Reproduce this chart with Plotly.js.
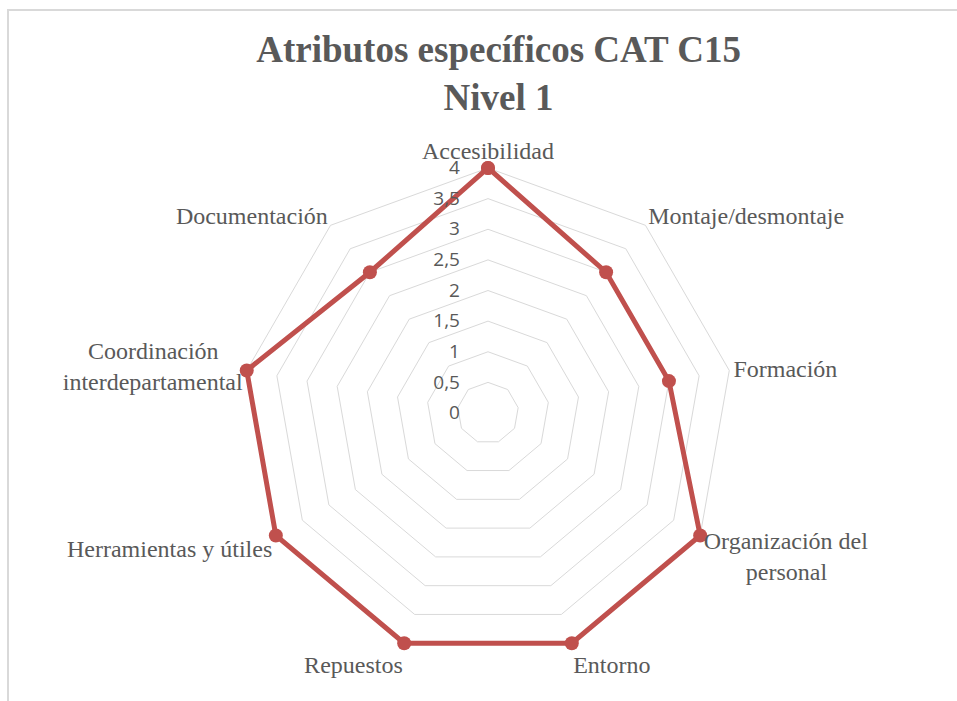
<!DOCTYPE html>
<html>
<head>
<meta charset="utf-8">
<script src="https://cdn.plot.ly/plotly-3.0.1.min.js"></script>
<style>
  html, body { margin: 0; padding: 0; background: #fff; }
  #frame { position: absolute; left: 7px; top: 9px; width: 960px; height: 700px;
           border-left: 2px solid #d9d9d9; border-top: 2px solid #d9d9d9; }
  #chart { position: absolute; left: 0; top: 0; width: 957px; height: 701px; }
</style>
</head>
<body>
<div id="frame"></div>
<div id="chart"></div>
<script>
// categorias y valores del grafico de radar
var atributos = ['Accesibilidad', 'Montaje/desmontaje', 'Formación',
                 'Organización del<br>\u00a0\u00a0\u00a0\u00a0\u00a0\u00a0\u00a0personal',
                 'Entorno', 'Repuestos', 'Herramientas y útiles',
                 'Coordinación\u00a0\u00a0\u00a0\u00a0<br>interdepartamental',
                 'Documentación'];
var nivel1 = [4, 3, 3, 4, 4, 4, 4, 4, 3];

// cerrar el poligono
var theta = atributos.concat([atributos[0]]);
var r = nivel1.concat([nivel1[0]]);

var gris = '#595959';
var rmax = 4.06;   // un poco de holgura para que la linea exterior no se recorte

var data = [{
  type: 'scatterpolar',
  r: r,
  theta: theta,
  mode: 'lines+markers',
  cliponaxis: false,
  line: { color: '#C0504D', width: 5 },
  marker: { color: '#C0504D', size: 14 },
  hoverinfo: 'theta+r'
}];

var rad = 245 * rmax / 4;
var layout = {
  width: 957,
  height: 701,
  paper_bgcolor: 'rgba(0,0,0,0)',
  plot_bgcolor: 'rgba(0,0,0,0)',
  separators: ',.',
  showlegend: false,
  margin: { l: 0, r: 0, t: 0, b: 0 },
  title: {
    text: '<b>Atributos específicos CAT C15<br>Nivel 1</b>',
    font: { family: 'Liberation Serif, Times New Roman, serif', size: 37, color: gris },
    x: 0.521, xanchor: 'center',
    y: 0.911, yanchor: 'top'
  },
  polar: {
    domain: { x: [(488 - rad) / 957, (488 + rad) / 957],
              y: [(701 - 413 - rad) / 701, (701 - 413 + rad) / 701] },
    bgcolor: 'rgba(0,0,0,0)',
    gridshape: 'linear',
    radialaxis: {
      range: [0, rmax],
      dtick: 0.5,
      angle: 90,
      tickangle: 90,
      side: 'counterclockwise',
      showline: false,
      ticks: '',
      // espacios para dejar las etiquetas a la izquierda del eje
      ticksuffix: '\u00a0\u00a0\u00a0\u00a0\u00a0',
      gridcolor: '#d9d9d9',
      gridwidth: 1.3,
      tickfont: { family: 'Open Sans, sans-serif', size: 19, color: gris }
    },
    angularaxis: {
      rotation: 90,
      direction: 'clockwise',
      showgrid: false,
      showline: false,
      ticks: '',
      tickfont: { family: 'Liberation Serif, Times New Roman, serif', size: 24, color: gris }
    }
  }
};

Plotly.newPlot('chart', data, layout, { displayModeBar: false });
</script>
</body>
</html>
